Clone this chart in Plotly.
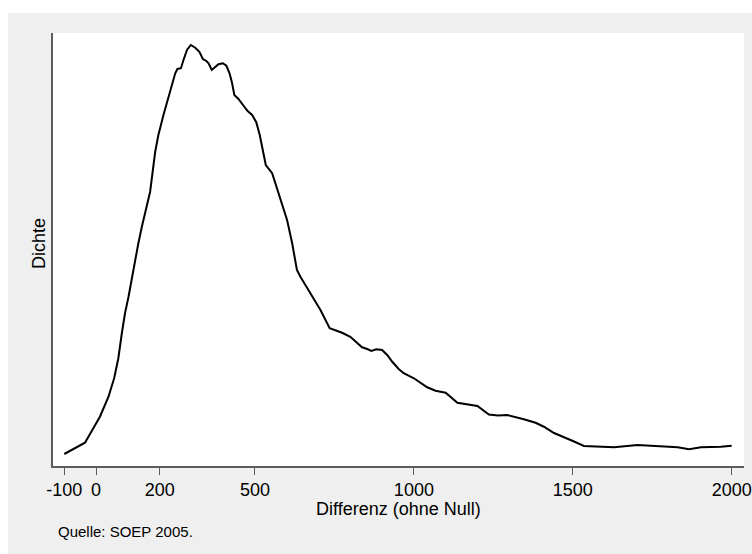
import plotly.graph_objects as go

# Differenz (ohne Null) values and estimated kernel density
differenz = [-100, -35, 12, 39, 57, 70, 81, 91, 102, 117, 133, 144, 154, 170, 186, 196,
             212, 233, 249, 256, 267, 275, 286, 298, 312, 325, 336, 347, 354, 364, 375,
             385, 399, 410, 420, 428, 435, 448, 464, 477, 491, 504, 515, 525, 534, 554,
             574, 601, 617, 632, 643, 669, 706, 735, 753, 774, 800, 819, 837, 853, 866,
             882, 900, 916, 932, 953, 968, 1000, 1042, 1068, 1100, 1137, 1168, 1200,
             1236, 1264, 1294, 1326, 1346, 1383, 1409, 1441, 1483, 1504, 1535, 1588,
             1630, 1704, 1788, 1830, 1866, 1903, 1966, 2000]
dichte_e6 = [48, 93, 197, 277, 352, 431, 531, 611, 677, 784, 891, 957, 1011, 1097, 1257,
             1324, 1404, 1497, 1571, 1588, 1591, 1624, 1664, 1684, 1673, 1657, 1628, 1620,
             1611, 1584, 1597, 1607, 1611, 1601, 1571, 1531, 1484, 1468, 1441, 1420, 1404,
             1375, 1324, 1257, 1204, 1171, 1091, 984, 891, 784, 757, 704, 624, 551, 544,
             533, 517, 497, 475, 468, 460, 467, 464, 444, 417, 387, 371, 351, 315, 301,
             293, 253, 247, 240, 206, 202, 204, 195, 187, 173, 157, 132, 111, 98, 80, 77,
             75, 84, 80, 75, 67, 75, 77, 81]
dichte = [v * 1e-6 for v in dichte_e6]

x_ticks = [-100, 0, 200, 500, 1000, 1500, 2000]
x_title = "Differenz (ohne Null)"
y_title = "Dichte"
note = "Quelle: SOEP 2005."

FONT = "Liberation Sans, Arial, Helvetica, sans-serif"
GRAY = "#EFEFEF"
AXIS = "#5c5c5c"

fig = go.Figure()
fig.add_trace(go.Scatter(x=differenz, y=dichte, mode="lines",
                         line=dict(color="black", width=2), hoverinfo="skip",
                         showlegend=False))

W, H = 752, 554
L, R, T, B = 53, 8, 33, 88
pw, ph = W - L - R, H - T - B

def px_x(px):
    return (px - L) / pw

def px_y(py):
    return (H - B - py) / ph

fig.update_layout(
    width=W, height=H, autosize=False,
    margin=dict(l=L, r=R, t=T, b=B, pad=0, autoexpand=False),
    paper_bgcolor=GRAY, plot_bgcolor="white",
    font=dict(family=FONT, color="black", size=18),
    xaxis=dict(range=[-135.6, 2038.8], tickmode="array", tickvals=x_ticks,
               ticktext=[str(v) for v in x_ticks], showgrid=False, zeroline=False,
               automargin=False,
               showline=True, linecolor=AXIS, linewidth=1.5, ticks="outside",
               ticklen=7, tickwidth=1.2, tickcolor=AXIS,
               tickfont=dict(size=18, color="black", family=FONT)),
    yaxis=dict(range=[0, 0.001732], showticklabels=False, showgrid=False,
               automargin=False,
               zeroline=False, showline=True, linecolor=AXIS, linewidth=1.5,
               ticks=""),
    shapes=[
        dict(type="rect", xref="paper", yref="paper", x0=px_x(-2), x1=px_x(8),
             y0=px_y(H + 2), y1=px_y(-2), fillcolor="white", line=dict(width=0),
             layer="below"),
        dict(type="rect", xref="paper", yref="paper", x0=px_x(-2), x1=px_x(W + 2),
             y0=px_y(13), y1=px_y(-2), fillcolor="white", line=dict(width=0),
             layer="below"),
    ],
    annotations=[
        dict(text=x_title, xref="paper", yref="paper", x=0.5, y=px_y(509),
             xanchor="center", yanchor="middle", showarrow=False,
             font=dict(size=18, family=FONT, color="black")),
        dict(text=y_title, xref="paper", yref="paper", x=px_x(39), y=px_y(244),
             xanchor="center", yanchor="middle", showarrow=False, textangle=-90,
             font=dict(size=18, family=FONT, color="black")),
        dict(text=note, xref="paper", yref="paper", x=px_x(56), y=px_y(531.7),
             xanchor="left", yanchor="middle", showarrow=False,
             font=dict(size=15, family=FONT, color="black")),
    ],
)

post = (
    "document.documentElement.style.margin='0';"
    "document.body.style.margin='0';"
    "document.body.style.overflow='hidden';"
    "var gd=document.getElementById('{plot_id}');"
    "gd.style.width='752px';gd.style.height='554px';"
    "Plotly.relayout(gd,{width:752,height:554});"
)

fig.write_html("out.html", post_script=post, config={"displayModeBar": False})
